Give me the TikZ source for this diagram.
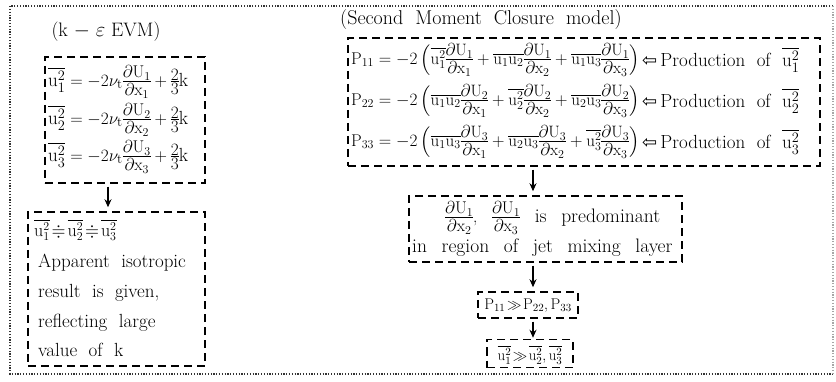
\documentclass[tikz,border=0pt]{standalone}
\usepackage{amsmath,amssymb}
\usepackage{fontspec}
\newfontfamily\djv{DejaVu Sans}
\usetikzlibrary{arrows.meta}

\newcommand\usq[1]{\overline{\mathrm{u}_{#1}^{2}}}
\newcommand\uuo[2]{\overline{\mathrm{u}_{#1}\mathrm{u}_{#2}}}
% compact fraction; optional argument = size of numerator / denominator
\newcommand\cf[3][15.5]{\mathord{\vcenter{\offinterlineskip\fontsize{#1}{17}\selectfont
  \halign{\hfil$##$\hfil\cr #2\cr\noalign{\kern1.2pt\hrule height .7pt\kern1.6pt}#3\cr}}}}
\newcommand\pdU[3][15.5]{\cf[#1]{\partial\mathrm{U}_{#2}}{\partial\mathrm{x}_{#3}}}
\newcommand\widesp{\spaceskip=.6em plus .1em minus .1em\relax}
\newcommand\widersp{\spaceskip=.75em plus .1em minus .1em\relax}

\tikzset{
  dbox/.style={draw, line width=1.5pt, dash pattern=on 8pt off 5pt, inner sep=0pt},
  arr/.style={-{Stealth[length=8pt,width=7pt]}, line width=1.6pt},
  outer/.style={line width=1.6pt, dash pattern=on 1.2pt off 1.6pt, black!80},
  txt/.style={inner sep=0pt, font=\fontsize{19}{22}\selectfont\widesp},
  eq/.style={inner sep=0pt, font=\fontsize{17}{20}\selectfont},
}

\begin{document}
\begin{tikzpicture}[x=1pt,y=-1pt]
\useasboundingbox (0,0) rectangle (836,382);

% outer dotted frame
\draw[outer] (833,6) -- (10,6) -- (10,374) -- (833,374);
\draw[outer, black!35] (833,6) -- (833,374);

% ---------- left: k-epsilon EVM ----------
\node[txt, anchor=base, font=\fontsize{19.5}{22}\selectfont] (tl) at (106,37) {(k $-$ $\varepsilon$ EVM)};

\node[dbox, minimum width=160pt, minimum height=126pt] (b1) at (125,120) {};
\node[eq, anchor=west, font=\fontsize{19}{22}\selectfont] (r11) at (48,82)  {$\usq{1}=-2\nu_{\mathrm t}\pdU[17]{1}{1}+\cf[17]{2}{3}\mathrm{k}$};
\node[eq, anchor=west, font=\fontsize{19}{22}\selectfont] (r12) at (48,120) {$\usq{2}=-2\nu_{\mathrm t}\pdU[17]{2}{2}+\cf[17]{2}{3}\mathrm{k}$};
\node[eq, anchor=west, font=\fontsize{19}{22}\selectfont] (r13) at (48,157) {$\usq{3}=-2\nu_{\mathrm t}\pdU[17]{3}{3}+\cf[17]{2}{3}\mathrm{k}$};

\node[dbox, minimum width=177pt, minimum height=154pt] (b2) at (116.5,289) {};
\node[eq, anchor=west, font=\fontsize{18}{20}\selectfont] (l1) at (34,230) {$\usq{1}\!\doteqdot\!\usq{2}\!\doteqdot\!\usq{3}$};
\node[txt, anchor=base west] (l2) at (38,268) {Apparent isotropic};
\node[txt, anchor=base west] (l3) at (38,298) {result is given,};
\node[txt, anchor=base west] (l4) at (38,327) {reflecting large};
\node[txt, anchor=base west] (l5) at (38,356) {value of k};

\coordinate (ax) at (108,0);
\draw[arr, shorten <=3pt, shorten >=4pt] (b1.south -| ax) -- (b2.north -| ax);

% ---------- right: Second Moment Closure model ----------
\node[txt, anchor=base west, font=\fontsize{20}{22}\selectfont\widesp] (tr) at (340,25) {(Second Moment Closure model)};

\node[dbox, minimum width=472pt, minimum height=128pt] (s1) at (584,102) {};
\node[eq, anchor=west] (p1) at (351,60)
 {$\mathrm{P}_{11}=-2\left(\usq{1}\pdU[16.5]{1}{1}+\uuo{1}{2}\pdU[16.5]{1}{2}+\uuo{1}{3}\pdU[16.5]{1}{3}\right)$};
\node[eq, anchor=west] (p2) at (351,101)
 {$\mathrm{P}_{22}=-2\left(\uuo{1}{2}\pdU[16.5]{2}{1}+\usq{2}\pdU[16.5]{2}{2}+\uuo{2}{3}\pdU[16.5]{2}{3}\right)$};
\node[eq, anchor=west] (p3) at (351,142)
 {$\mathrm{P}_{33}=-2\left(\uuo{1}{3}\pdU[16.5]{3}{1}+\uuo{2}{3}\pdU[16.5]{3}{2}+\usq{3}\pdU[16.5]{3}{3}\right)$};
\node[txt, anchor=west] (q1) at (642,60)  {{\djv\fontsize{18}{20}\selectfont ⇦}\,Production of $\usq{1}$};
\node[txt, anchor=west] (q2) at (642,101) {{\djv\fontsize{18}{20}\selectfont ⇦}\,Production of $\usq{2}$};
\node[txt, anchor=west] (q3) at (642,142) {{\djv\fontsize{18}{20}\selectfont ⇦}\,Production of $\usq{3}$};

\node[dbox, minimum width=273pt, minimum height=66pt] (s2) at (545.5,229) {};
\node[txt, anchor=west, font=\fontsize{19.5}{22}\selectfont\widersp] (m1) at (445,218) {{\fontsize{17}{20}\selectfont$\pdU[17]{1}{2}$, $\pdU[17]{1}{3}$} is predominant};
\node[txt, anchor=base west, font=\fontsize{19.5}{22}\selectfont\widersp] (m2) at (412,253) {in region of jet mixing layer};

\node[dbox, minimum width=100pt, minimum height=26pt] (s3) at (528,305) {};
\node[eq, font=\fontsize{15.5}{20}\selectfont] (e3) at (528,305.5) {$\mathrm{P}_{11}\!\gg\!\mathrm{P}_{22},\mathrm{P}_{33}$};

\node[dbox, minimum width=86pt, minimum height=28pt] (s4) at (530,353.5) {};
\node[eq, font=\fontsize{15}{20}\selectfont] (e4) at (530,355) {$\usq{1}\!\gg\!\usq{2},\usq{3}$};

\coordinate (rx) at (533,0);
\draw[arr, shorten <=3pt, shorten >=4pt] (s1.south -| rx) -- (s2.north -| rx);
\draw[arr, shorten <=3pt, shorten >=4pt] (s2.south -| rx) -- (s3.north -| rx);
\draw[arr, shorten <=3pt, shorten >=1pt] (s3.south -| rx) -- (s4.north -| rx);
\end{tikzpicture}
\end{document}
